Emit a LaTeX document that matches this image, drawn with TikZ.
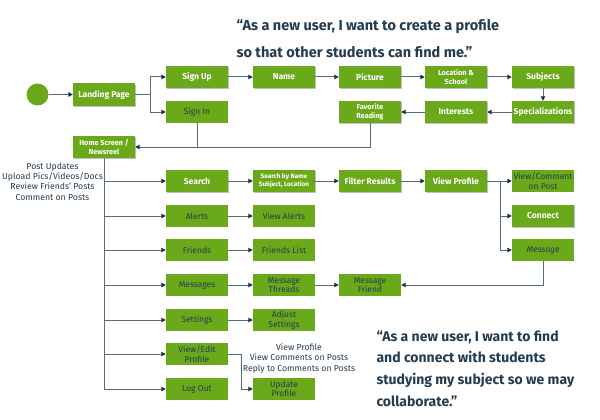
\documentclass[tikz,border=0pt]{standalone}
\usepackage{fontspec}
\setmainfont{Fira Sans}
\usetikzlibrary{arrows.meta,shadows}
\definecolor{leaf}{RGB}{106,170,26}
\definecolor{ink}{RGB}{36,60,80}
\definecolor{wire}{RGB}{84,108,124}
\definecolor{tip}{RGB}{30,50,68}

\tikzset{
  box/.style={rectangle, fill=leaf, minimum width=62pt, minimum height=22pt,
    inner sep=1pt, align=center, text=ink, font=\fontsize{8.5}{9.5}\selectfont},
  keybox/.style={box, text=white, font=\bfseries\fontsize{8.5}{9.5}\selectfont,
    drop shadow={shadow xshift=1pt, shadow yshift=-1.3pt, opacity=0.35, fill=black!70}},
  small/.style={font=\bfseries\fontsize{7.3}{9}\selectfont},
  tiny/.style={font=\bfseries\fontsize{6.4}{8}\selectfont},
  wireline/.style={draw=wire, line width=1pt},
  link/.style={wireline, -{Triangle[length=4.5pt,width=4.5pt,fill=tip,color=tip]}},
  note/.style={text=ink, align=center, font=\fontsize{8.7}{10.4}\selectfont},
  quote/.style={text=ink, align=left, anchor=north west}
}

\begin{document}
\begin{tikzpicture}[x=1pt,y=-1pt]
\useasboundingbox (0,0) rectangle (600,420);

% sign-up path
\node[circle, fill=leaf, minimum size=22pt, inner sep=0] (start) at (37.5,94.5) {};
\node[keybox] (landing) at (104,94.5) {Landing Page};
\node[keybox] (signup) at (197,77) {Sign Up};
\node[box] (signin) at (197,112) {Sign In};
\node[keybox] (name) at (284,77) {Name};
\node[keybox] (picture) at (370,77) {Picture};
\node[keybox, small] (loc) at (456,77) {Location \&\\School};
\node[keybox] (subj) at (543,77) {Subjects};
\node[keybox] (spec) at (543,112) {Specializations};
\node[keybox] (interests) at (456,112) {Interests};
\node[keybox, small] (fav) at (370,112) {Favorite\\Reading};
\node[keybox, small] (home) at (104,147) {Home Screen /\\Newsreel};

% menu column
\node[keybox] (search) at (197,181) {Search};
\node[keybox, tiny] (sbn) at (284,181) {Search by Name\\Subject, Location};
\node[keybox] (filter) at (370,181) {Filter Results};
\node[keybox] (viewprof) at (456,181) {View Profile};
\node[box] (viewcomm) at (543,181) {View/Comment\\on Post};
\node[keybox] (connect) at (543,216) {Connect};
\node[box, font=\itshape\fontsize{8.5}{9.5}\selectfont] (message) at (543,250) {Message};

\node[box] (alerts) at (197,216) {Alerts};
\node[box] (viewalerts) at (284,216) {View Alerts};
\node[box] (friends) at (197,250) {Friends};
\node[box] (friendslist) at (284,250) {Friends List};
\node[box] (messages) at (197,285) {Messages};
\node[box] (threads) at (284,285) {Message\\Threads};
\node[box] (msgfriend) at (370,285) {Message\\Friend};
\node[box] (settings) at (197,320) {Settings};
\node[box] (adjust) at (284,320) {Adjust\\Settings};
\node[box] (viewedit) at (197,354) {View/Edit\\Profile};
\node[box] (update) at (284,389) {Update\\Profile};
\node[box] (logout) at (197,389) {Log Out};

% side notes
\node[note] (homenote) at (52.5,181.5) {Post Updates\\Upload Pics/Videos/Docs\\Review Friends' Posts\\Comment on Posts};
\node[note] (profnote) at (299,358.5) {View Profile\\View Comments on Posts\\Reply to Comments on Posts};

% user stories
\node[quote, font=\bfseries\fontsize{14.5}{27}\selectfont] (story1) at (233,16)
  {“As a new user, I want to create a profile\\so that other students can find me.”};
\node[quote, font=\bfseries\fontsize{14}{21.6}\selectfont] (story2) at (373,327)
  {“As a new user, I want to find\\and connect with students\\studying my subject so we may\\collaborate.”};

% connectors: sign-up path
\draw[link] (start) -- (landing);
\coordinate (lpfork) at (150,94.5);
\draw[wireline] (landing.east) -- (lpfork);
\draw[link] (lpfork) |- (signup.west);
\draw[link] (lpfork) |- (signin.west);
\draw[link] (signup) -- (name);
\draw[link] (name) -- (picture);
\draw[link] (picture) -- (loc);
\draw[link] (loc) -- (subj);
\draw[link] (subj) -- (spec);
\draw[link] (spec) -- (interests);
\draw[link] (interests) -- (fav);
\draw[link] (fav.south) |- (home.east);
\draw[wireline] (signin.south) -- (signin.south |- home.east);

% connectors: menu trunk
\draw[wireline] (home.south) -- (home.south |- logout.west);
\foreach \n in {search,alerts,friends,messages,settings,viewedit,logout}
  \draw[link] (home.south |- \n.west) -- (\n.west);

% connectors: search path
\draw[link] (search) -- (sbn);
\draw[link] (sbn) -- (filter);
\draw[link] (filter) -- (viewprof);
\draw[link] (viewprof) -- (viewcomm);
\coordinate (vpfork) at (500,181);
\draw[link] (vpfork) |- (connect.west);
\draw[link] (vpfork) |- (message.west);
\draw[link] (message.south) |- (msgfriend.east);

% connectors: other menu items
\draw[link] (alerts) -- (viewalerts);
\draw[link] (friends) -- (friendslist);
\draw[link] (messages) -- (threads);
\draw[link] (threads) -- (msgfriend);
\draw[link] (settings) -- (adjust);
\draw[link] (viewedit.east) -- ++(13,0) |- (update.west);
\end{tikzpicture}
\end{document}
